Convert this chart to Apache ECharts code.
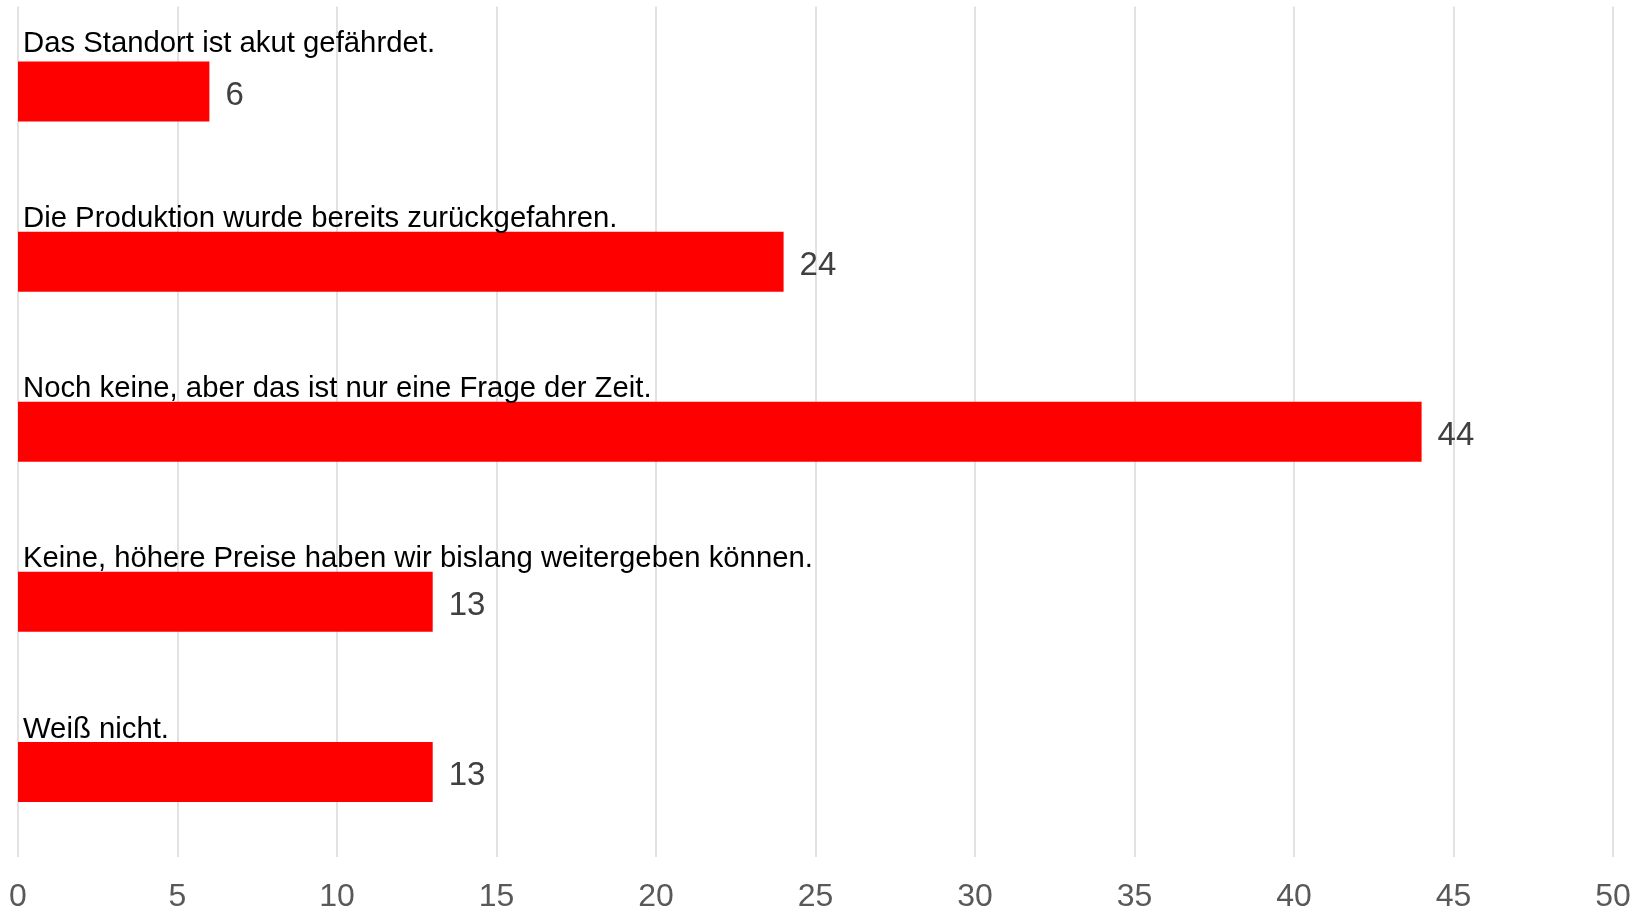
<!DOCTYPE html>
<html lang="de">
<head>
    <meta charset="UTF-8">
    <title>Chart</title>
    <style>
        html, body {
            margin: 0;
            padding: 0;
            background: #ffffff;
        }
        #chart {
            width: 1637px;
            height: 913px;
        }
    </style>
</head>
<body>
<div id="chart"></div>
<script src="https://cdn.jsdelivr.net/npm/echarts@6/dist/echarts.min.js"></script>
<script type="text/javascript">
    const categories = [
        "Das Standort ist akut gefährdet.",
        "Die Produktion wurde bereits zurückgefahren.",
        "Noch keine, aber das ist nur eine Frage der Zeit.",
        "Keine, höhere Preise haben wir bislang weitergeben können.",
        "Weiß nicht."
    ];
    const values = [6, 24, 44, 13, 13];

    const font = "'Liberation Sans', Arial, sans-serif";

    // Kategorie-Text sitzt beim ersten Balken etwas höher
    const nameData = values.map((v, i) => ({
        value: v,
        label: {position: [5, i === 0 ? -3 : 2]}
    }));

    let myChart = echarts.init(document.getElementById('chart'));
    myChart.setOption({
        animation: false,
        grid: {
            left: 18,
            right: 24,
            top: 6.5,
            bottom: 51.5,
            containLabel: false
        },
        xAxis: {
            type: 'value',
            min: 0,
            max: 50,
            interval: 5,
            axisLine: {show: false},
            axisTick: {show: false},
            splitLine: {lineStyle: {color: '#d9d9d9', width: 1.5}},
            axisLabel: {
                margin: 24,
                fontSize: 32,
                fontFamily: font,
                color: '#595959'
            }
        },
        yAxis: {
            type: 'category',
            data: categories,
            inverse: true,
            axisLine: {show: false},
            axisTick: {show: false},
            axisLabel: {show: false}
        },
        series: [
            {
                // Balken mit Wert rechts
                type: 'bar',
                data: values,
                barWidth: 60,
                itemStyle: {color: '#ff0000'},
                label: {
                    show: true,
                    position: 'right',
                    distance: 16,
                    offset: [0, 4],
                    fontSize: 33,
                    fontFamily: font,
                    color: '#404040'
                },
                z: 3
            },
            {
                // unsichtbare Kopie für die Kategorie-Beschriftung über dem Balken
                type: 'bar',
                data: nameData,
                barWidth: 60,
                barGap: '-100%',
                itemStyle: {color: 'rgba(0,0,0,0)'},
                label: {
                    show: true,
                    verticalAlign: 'bottom',
                    align: 'left',
                    fontSize: 29.3,
                    fontFamily: font,
                    color: '#000000',
                    formatter: p => p.name
                },
                z: 4
            }
        ]
    });
</script>
</body>
</html>
